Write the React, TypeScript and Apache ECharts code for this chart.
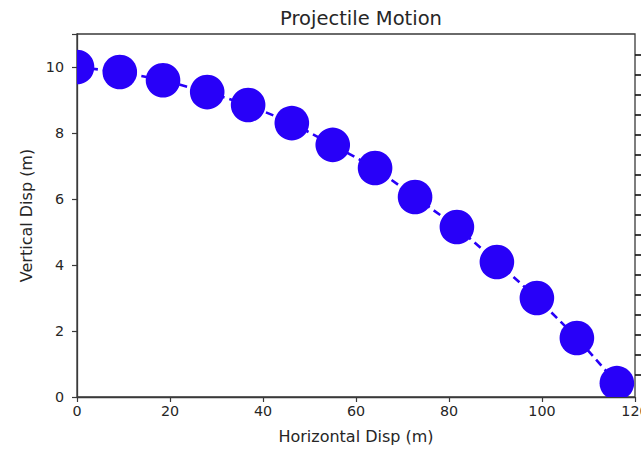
import React, { useEffect, useRef } from "react";
import * as echarts from "echarts";

const xDisp = [0, 9.2, 18.5, 28.0, 36.8, 46.2, 55.0, 64.1, 72.7, 81.7, 90.3, 98.9, 107.5, 116.1];
const yDisp = [10.0, 9.85, 9.6, 9.24, 8.85, 8.3, 7.64, 6.94, 6.06, 5.15, 4.09, 3.0, 1.79, 0.42];
const xTicks = [0, 20, 40, 60, 80, 100, 120];
const yTicks = [0, 2, 4, 6, 8, 10];
const rightTicks = [0, 16];

const BLUE = "#2800f8";
const INK = "#262626";
const FONT = "DejaVu Sans";

export default function App() {
  const ref = useRef<HTMLDivElement>(null);
  useEffect(() => {
    if (!ref.current) return;
    const chart = echarts.init(ref.current, null, { renderer: "svg" });
    const pts = xDisp.map((x, i) => [x, yDisp[i]]);
    chart.setOption({
      animation: false,
      backgroundColor: "#ffffff",
      title: {
        text: "Projectile Motion",
        left: 356,
        top: 3,
        textAlign: "center",
        textStyle: { fontFamily: FONT, fontSize: 19.5, fontWeight: "normal", color: INK },
      },
      grid: [
        { left: 77, right: 6, top: 34, bottom: 53, show: true, borderColor: "#3a3a3a", borderWidth: 1.3, backgroundColor: "transparent", outerBoundsMode: "none", containLabel: false },
        { left: 77, right: 6, top: 55, bottom: 75, show: false, outerBoundsMode: "none", containLabel: false },
      ],
      xAxis: [
        {
          type: "value",
          gridIndex: 0,
          min: xTicks[0],
          max: xTicks[xTicks.length - 1],
          interval: 20,
          name: "Horizontal Disp (m)",
          nameLocation: "middle",
          nameGap: 31,
          nameTextStyle: { fontFamily: FONT, fontSize: 16, color: INK },
          axisLine: { show: true, lineStyle: { color: "#3a3a3a", width: 1.3 } },
          axisTick: { show: true, length: 5, lineStyle: { color: "#3a3a3a", width: 1.2 } },
          axisLabel: { fontFamily: FONT, fontSize: 14.3, color: INK, margin: 7 },
          splitLine: { show: false },
        },
        {
          type: "value",
          gridIndex: 1,
          min: 0,
          max: 1,
          show: false,
        },
      ],
      yAxis: [
        {
          type: "value",
          gridIndex: 0,
          min: 0,
          max: 11,
          interval: 2,
          name: "Vertical Disp (m)",
          nameLocation: "middle",
          nameGap: 41,
          nameTextStyle: { fontFamily: FONT, fontSize: 16, color: INK },
          axisLine: { show: true, lineStyle: { color: "#3a3a3a", width: 1.3 } },
          axisTick: { show: true, length: 5, lineStyle: { color: "#3a3a3a", width: 1.2 } },
          axisLabel: {
            fontFamily: FONT,
            fontSize: 14.3,
            color: INK,
            margin: 13,
            formatter: (v: number) => (yTicks.includes(v) ? String(v) : ""),
          },
          splitLine: { show: false },
        },
        {
          type: "value",
          gridIndex: 1,
          position: "right",
          min: rightTicks[0],
          max: rightTicks[1],
          interval: 1,
          axisLine: { show: false, onZero: false },
          axisTick: { show: true, length: 8, lineStyle: { color: "#111111", width: 1.6 } },
          axisLabel: { show: false },
          splitLine: { show: false },
        },
      ],
      series: [
        {
          type: "line",
          xAxisIndex: 0,
          yAxisIndex: 0,
          data: pts,
          symbol: "none",
          clip: true,
          lineStyle: { color: BLUE, width: 2.6, type: [8, 5] },
          z: 2,
        },
        {
          type: "custom",
          xAxisIndex: 0,
          yAxisIndex: 0,
          data: pts,
          clip: true,
          encode: { x: 0, y: 1 },
          z: 3,
          renderItem: (_params: any, api: any) => {
            const p = api.coord([api.value(0), api.value(1)]);
            return {
              type: "circle",
              shape: { cx: p[0], cy: p[1], r: 17.3 },
              style: { fill: BLUE },
            };
          },
        },
      ],
    });
    return () => chart.dispose();
  }, []);
  return (
    <div
      ref={ref}
      style={{ position: "fixed", left: 0, top: 0, width: 641, height: 450, background: "#fff" }}
    />
  );
}
